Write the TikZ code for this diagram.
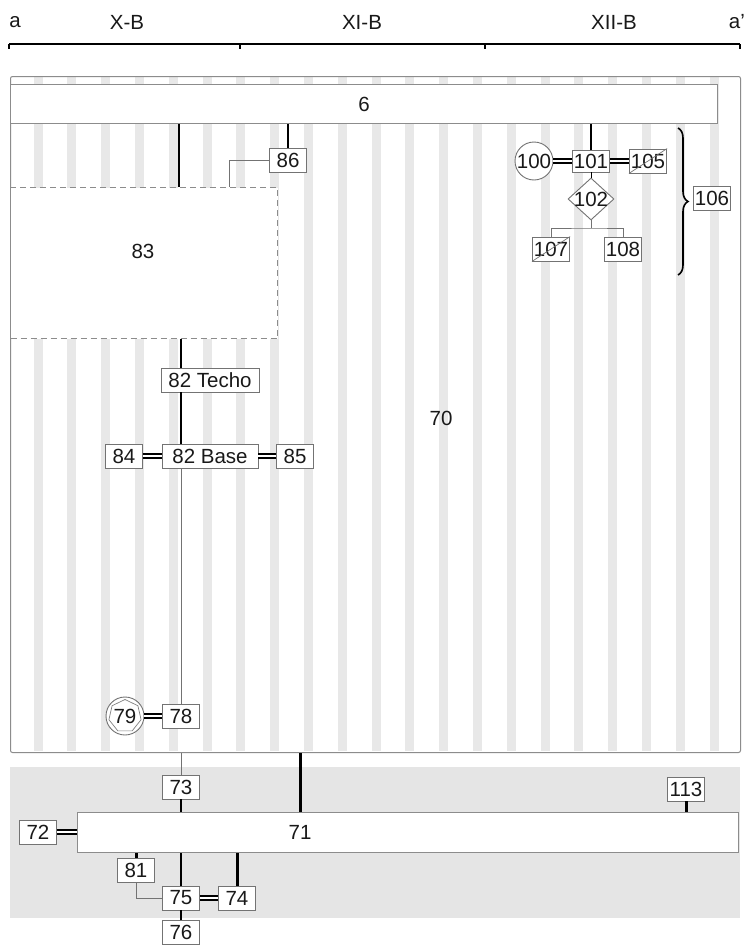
\documentclass[tikz,border=0pt]{standalone}
\usepackage{fontspec}
\setmainfont{Liberation Sans}
\usetikzlibrary{shapes.geometric,decorations.pathreplacing}
\begin{document}
\begin{tikzpicture}[x=1pt,y=-1pt,
  lab/.style={font=\fontsize{20.5}{24}\selectfont, text=black!90},
  bx/.style={lab, draw=black!55, fill=white, line width=0.9pt, inner xsep=1.5pt, inner ysep=0pt, minimum height=24pt, minimum width=37pt},
  frame/.style={draw=black!45, line width=1pt, inner sep=0pt, anchor=north west},
  thinc/.style={draw=black!55, line width=0.9pt},
  medc/.style={draw=black, line width=1.4pt},
  thickc/.style={draw=black, line width=3pt},
  dblc/.style={draw=black, line width=1.5pt, double=white, double distance=2.2pt},
]
\useasboundingbox (0,0) rectangle (745,945);
\fill[white] (0,0) rectangle (745,945);

% header scale
\node[lab] (ta) at (15,22) {a};
\node[lab] (tx) at (127,22) {X-B};
\node[lab] (txi) at (362,22) {XI-B};
\node[lab] (txii) at (614,22) {XII-B};
\node[lab, anchor=east, inner xsep=0pt] (tap) at (745,22) {a'};
\coordinate (s0) at (9,44);
\coordinate (s1) at (240,44);
\coordinate (s2) at (485,44);
\coordinate (s3) at (740,44);
\draw[line width=1.5pt] (s0) -- (s3);
\foreach \c in {s0,s1,s2,s3} \draw[line width=1.5pt] (\c) -- ++(0,5);

% region 70 with stripes
\foreach \k in {0,...,20} \fill[gray!18] ({38+33.8*\k-4.5},77) rectangle ++(9,674);
\node[frame, rounded corners=2pt, minimum width=730pt, minimum height=676pt] (n70) at (10,76) {};
\node[lab] (t70) at (441,418) {70};

% grey band
\fill[gray!20] (10,767) rectangle (740,918);

% big boxes
\node[frame, lab, fill=white, minimum width=707pt, minimum height=39pt] (n6) at (10,84) {6};
\node[frame, fill=white, dash pattern=on 6pt off 4pt, minimum width=267pt, minimum height=151pt] (n83) at (10,187) {};
\node[lab] (t83) at (143,251) {83};
\node[frame, fill=white, minimum width=661pt, minimum height=40pt] (n71) at (77,812) {};
\node[lab] (t71) at (300,832) {71};

% small boxes
\node[bx] (n86) at (288,160) {86};
\node[bx, minimum width=98pt] (n82t) at (210,380) {82 Techo};
\node[bx, minimum width=96pt] (n82b) at (210,456) {82 Base};
\node[bx] (n84) at (124,456) {84};
\node[bx] (n85) at (295,456) {85};
\node[bx] (n78) at (181,716) {78};
\node[lab, circle, draw=black!55, fill=white, line width=0.9pt, inner sep=0pt, minimum size=38pt] (n79) at (125,716) {79};
\node[regular polygon, regular polygon sides=7, draw=black!50, line width=0.7pt, inner sep=0pt, minimum size=33pt] (n79p) at (n79.center) {};
\node[bx] (n73) at (181,787) {73};
\node[bx] (n72) at (38,832) {72};
\node[bx] (n113) at (686,789) {113};
\node[bx] (n81) at (136,870) {81};
\node[bx] (n75) at (181,898) {75};
\node[bx] (n74) at (237,898) {74};
\node[bx] (n76) at (181,932) {76};

% top right cluster
\node[lab, circle, draw=black!55, fill=white, line width=0.9pt, inner sep=0pt, minimum size=38pt] (n100) at (534,161) {100};
\node[bx, minimum height=22pt] (n101) at (591,161) {101};
\node[bx] (n105) at (648,161) {105};
\draw[thinc, line width=0.7pt] (n105.south west) -- (n105.north east);
\node[diamond, draw=black!55, fill=white, line width=0.9pt, inner sep=0pt, minimum width=46pt, minimum height=42pt, label={[lab]center:102}] (n102) at (591,199) {};
\node[bx] (n107) at (551,249) {107};
\draw[thinc, line width=0.7pt] (n107.south west) -- (n107.north east);
\node[bx] (n108) at (623,249) {108};
\node[bx] (n106) at (712,198) {106};
\coordinate (b1) at (678,128);
\coordinate (b2) at (678,275);
\draw[decorate, decoration={brace, amplitude=10pt}, line width=1.6pt] (b1) -- (b2);

% connectors in region 70
\draw[medc] (179,0 |- n6.south) -- (179,0 |- n83.north);
\draw[medc] (n6.south -| n86.north) -- (n86.north);
\draw[thinc] (n86.west) -| (229,0 |- n83.north);
\draw[medc] (181,0 |- n83.south) -- (181,0 |- n82t.north);
\draw[medc] (181,0 |- n82t.south) -- (181,0 |- n82b.north);
\draw[thinc] (181,0 |- n82b.south) -- (n78.north);
\draw[dblc] (n84.east) -- (n82b.west);
\draw[dblc] (n82b.east) -- (n85.west);
\draw[dblc] (n79.east) -- (n78.west);

\draw[medc] (n6.south -| n101.north) -- (n101.north);
\draw[dblc] (n100.east) -- (n101.west);
\draw[dblc] (n101.east) -- (n105.west);
\draw[medc, line width=1pt] (n101.south) -- (n102.north);
\coordinate (j102) at (591,228);
\draw[thinc] (n102.south) -- (j102);
\draw[thinc] (n107.north) |- (j102) -| (n108.north);

% connectors in lower band
\draw[thinc] (n73.north |- n70.south) -- (n73.north);
\draw[medc] (n73.south) -- (n73.south |- n71.north);
\draw[thickc] (300,0 |- n70.south) -- (300,0 |- n71.north);
\draw[dblc] (n72.east) -- (n72.east -| n71.west);
\draw[thickc] (n113.south) -- (n113.south |- n71.north);
\draw[thickc] (n81.north |- n71.south) -- (n81.north);
\draw[medc] (n75.north |- n71.south) -- (n75.north);
\draw[thickc] (n74.north |- n71.south) -- (n74.north);
\draw[thinc] (n81.south) |- (n75.west);
\draw[dblc] (n75.east) -- (n74.west);
\draw[medc] (n75.south) -- (n76.north);
\end{tikzpicture}
\end{document}
